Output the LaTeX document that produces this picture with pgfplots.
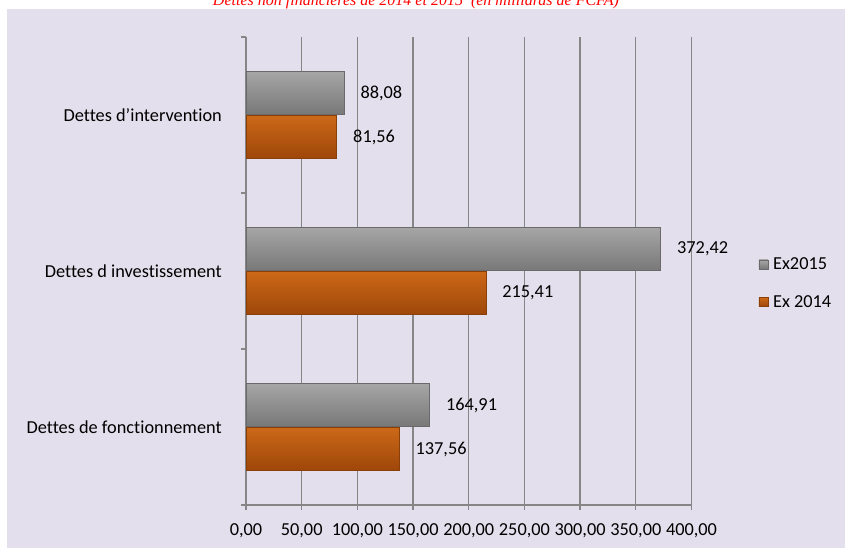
\documentclass[border=0pt]{standalone}
\usepackage{fontspec}
\setmainfont{Carlito}[Ligatures=CommonOff]
\newfontfamily\titlefont{Liberation Serif}
\usepackage{pgfplots}
\pgfplotsset{compat=1.18}
\definecolor{bg}{HTML}{E4DFEC}
\definecolor{axgray}{HTML}{868686}
\definecolor{gtop}{HTML}{A6A6A6}
\definecolor{gmid}{HTML}{8C8C8C}
\definecolor{gbot}{HTML}{787878}
\definecolor{gedge}{HTML}{6A6A6A}
\definecolor{otop}{HTML}{CC6818}
\definecolor{omid}{HTML}{B3520C}
\definecolor{obot}{HTML}{9E470A}
\definecolor{oedge}{HTML}{8A3E08}
\newcommand\lbl{\fontsize{18.3}{22}\selectfont}
\pgfplotsset{
  bar15/.style={xbar, bar shift=22pt, draw=gedge, line width=0.8pt, top color=gtop, middle color=gmid, bottom color=gbot,
    every node near coord/.append style={yshift=22pt},
    legend image code/.code={\path[top color=gtop, bottom color=gbot, draw=gedge, line width=0.6pt] (0pt,-4.5pt) rectangle (9pt,4.5pt);}},
  bar14/.style={xbar, bar shift=-22pt, draw=oedge, line width=0.8pt, top color=otop, middle color=omid, bottom color=obot,
    every node near coord/.append style={yshift=-22pt},
    legend image code/.code={\path[top color=otop, bottom color=obot, draw=oedge, line width=0.6pt] (0pt,-4.5pt) rectangle (9pt,4.5pt);}},
}
\begin{document}
\begin{tikzpicture}[x=1pt,y=1pt]
\useasboundingbox (0,0) rectangle (845,548);
\fill[bg] (7,0) rectangle (845,539);
\node[anchor=base, text=red, font=\titlefont\itshape\fontsize{16}{18}\selectfont] at (416,542) {Dettes non financières de 2014 et 2015~ (en milliards de FCFA)};
\begin{axis}[
  at={(246pt,43pt)}, anchor=south west,
  scale only axis, width=445.5pt, height=468pt,
  xmin=0, xmax=400, ymin=-0.5, ymax=2.5,
  axis x line*=bottom, axis y line*=left,
  axis line style={draw=axgray, line width=1.3pt, -},
  xtick={0,50,...,400},
  xmajorgrids, grid style={draw=axgray, line width=1.3pt},
  tick align=outside, major tick length=5pt,
  tick style={draw=axgray, line width=1.3pt},
  xticklabel style={font=\lbl, inner sep=0pt, anchor=north, yshift=-13pt},
  /pgf/number format/fixed, /pgf/number format/fixed zerofill,
  /pgf/number format/precision=2, /pgf/number format/use comma,
  /pgf/number format/assume math mode=true,
  ytick={-0.5,0.5,1.5,2.5}, yticklabels={},
  extra y ticks={0,1,2},
  extra y tick labels={Dettes de fonctionnement, Dettes d investissement, Dettes d’intervention},
  extra y tick style={major tick length=0pt, yticklabel style={font=\lbl, inner sep=0pt, anchor=east, xshift=-24pt}},
  bar width=43pt,
  point meta=x,
  nodes near coords,
  every node near coord/.append style={font=\lbl, text=black, anchor=west, inner sep=0pt, xshift=16pt},
  legend style={at={(1.15,0.474)}, anchor=west, draw=none, fill=none, font=\lbl, row sep=20pt, inner sep=0pt, cells={anchor=west}},
  clip=false,
]
% Ex2015
\addplot[bar15] coordinates {(164.91,0)};
\addlegendentry{\hspace{3pt}Ex2015}
\addplot[bar15, forget plot] coordinates {(372.42,1)};
\addplot[bar15, forget plot] coordinates {(88.08,2)};
% Ex 2014
\addplot[bar14] coordinates {(137.56,0)};
\addlegendentry{\hspace{3pt}Ex 2014}
\addplot[bar14, forget plot] coordinates {(215.41,1)};
\addplot[bar14, forget plot] coordinates {(81.56,2)};
\end{axis}
\end{tikzpicture}
\end{document}
